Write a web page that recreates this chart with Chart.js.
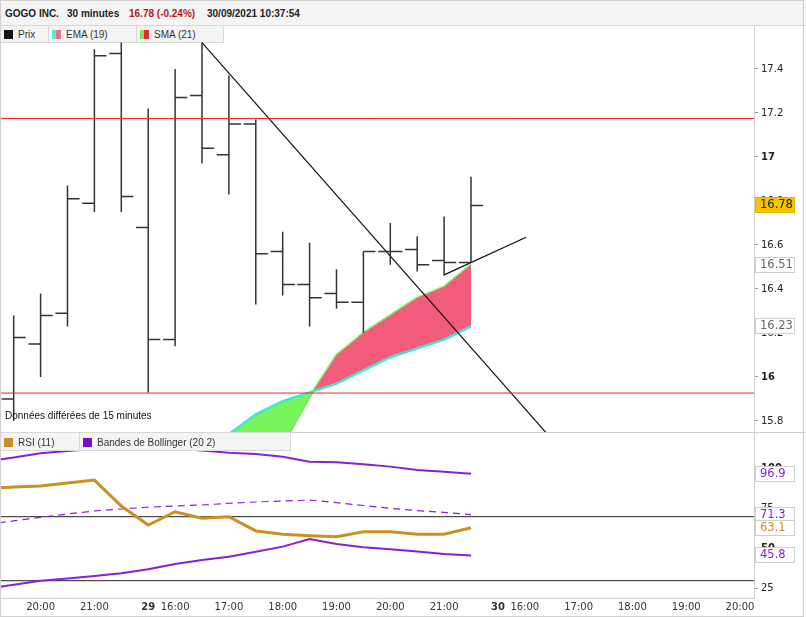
<!DOCTYPE html>
<html><head><meta charset="utf-8">
<script src="https://cdn.jsdelivr.net/npm/chart.js@4.4.1/dist/chart.umd.min.js"></script>
<style>
html,body{margin:0;padding:0;background:#fff;}
#wrap{position:relative;width:806px;height:617px;overflow:hidden;font-family:"Liberation Sans",Arial,sans-serif;}
#frame{position:absolute;left:0;top:0;width:804px;height:617px;border:1px solid #cfcfcf;box-sizing:border-box;pointer-events:none;}
#hdr{position:absolute;left:0;top:0;width:806px;height:26px;background:#f4f4f4;border-bottom:1px solid #d8d8d8;box-sizing:border-box;font-weight:bold;font-size:10px;color:#222;}
#hdr span{position:absolute;top:8px;white-space:nowrap;}
.leg{position:absolute;background:#f4f4f4;border:1px solid #d8d8d8;box-sizing:border-box;font-size:10px;color:#333;white-space:nowrap;}
.leg .sw{position:absolute;left:3px;width:9px;height:9px;}
.leg .tx{position:absolute;left:17px;}
canvas{position:absolute;left:0;}
#note{position:absolute;left:5px;top:410px;font-size:10px;color:#111;white-space:nowrap;line-height:12px;}
.hl{position:absolute;background:#cfcfcf;}
</style>
</head><body>
<div id="wrap">
  <div id="hdr">
    <span style="left:5px">GOGO INC.</span>
    <span style="left:67px">30 minutes</span>
    <span style="left:129px;color:#b3171b">16.78 (-0.24%)</span>
    <span style="left:207px">30/09/2021 10:37:54</span>
  </div>
  <div class="leg" style="left:0;top:25px;width:49px;height:18px;"><div class="sw" style="top:4px;background:#151515"></div><div class="tx" style="top:3px">Prix</div></div>
  <div class="leg" style="left:48px;top:25px;width:89px;height:18px;"><div class="sw" style="top:4px;background:linear-gradient(90deg,#4ff0d2 50%,#f36f8f 50%)"></div><div class="tx" style="top:3px">EMA (19)</div></div>
  <div class="leg" style="left:136px;top:25px;width:88px;height:18px;"><div class="sw" style="top:4px;background:linear-gradient(90deg,#74e85a 50%,#e82a2a 50%)"></div><div class="tx" style="top:3px">SMA (21)</div></div>
  <div class="hl" style="left:754px;top:25px;width:1px;height:17px;"></div>
  <canvas id="cPrice" width="806" height="390" style="top:42px"></canvas>
  <canvas id="cRsi" width="806" height="185" style="top:432px"></canvas>
  <div class="hl" style="left:0;top:432px;width:806px;height:1px;"></div>
  <div id="note">Données différées de 15 minutes</div>
  <div class="leg" style="left:0;top:432px;width:80px;height:19px;"><div class="sw" style="top:5px;background:#c98f1f"></div><div class="tx" style="top:4px">RSI (11)</div></div>
  <div class="leg" style="left:79px;top:432px;width:212px;height:19px;"><div class="sw" style="top:5px;background:#7a0ec8"></div><div class="tx" style="top:4px">Bandes de Bollinger (20 2)</div></div>
  <div id="frame"></div>
</div>
<script>
// ---- data ----
// 30-minute bars, slot 0 = 28/09 19:30 ... slot 17 = 29/09 21:30
const barTimes = ['28/09 19:30','28/09 20:00','28/09 20:30','28/09 21:00','28/09 21:30',
  '29/09 15:30','29/09 16:00','29/09 16:30','29/09 17:00','29/09 17:30','29/09 18:00','29/09 18:30',
  '29/09 19:00','29/09 19:30','29/09 20:00','29/09 20:30','29/09 21:00','29/09 21:30'];
const open  = [15.90,16.15,16.29,16.79,17.47,16.68,16.17,17.28,17.01,17.15,16.57,16.42,16.38,16.34,16.57,16.58,16.53,16.52];
const high  = [16.28,16.38,16.87,17.49,17.52,17.22,17.40,17.52,17.37,17.17,16.66,16.61,16.49,16.57,16.70,16.64,16.73,16.91];
const low   = [15.80,16.00,16.23,16.75,16.75,15.93,16.14,16.97,16.83,16.33,16.37,16.23,16.31,16.20,16.51,16.48,16.46,16.52];
const close = [16.18,16.28,16.81,17.46,16.82,16.17,17.27,17.04,17.15,16.56,16.42,16.36,16.34,16.57,16.57,16.51,16.52,16.78];
const ema19 = [null,null,null,null,null,null,null,null,15.74,15.83,15.89,15.93,15.97,16.03,16.09,16.13,16.17,16.23];
const sma21 = [null,null,null,null,null,null,null,null,15.30,15.50,15.69,15.91,16.10,16.20,16.28,16.36,16.41,16.51];
// horizontal levels and trendlines (slot, price)
const levels = [17.175, 15.927];
const trend1 = [{x:7, y:17.52},{x:20, y:15.718}];
const trend2 = [{x:16, y:16.464},{x:19.05, y:16.635}];
// RSI panel: indicator arrays start one slot earlier (slot -1 = 28/09 19:00)
const indFirstSlot = -1;
const rsi11   = [87.8,88.5,89.2,91.1,92.9,76.7,64.8,73.1,69.0,70.0,61.1,59.0,58.1,57.5,60.6,60.6,59.0,59.0,63.1];
const bbUpper = [104.6,107.0,109.6,111.1,112.3,112.9,113.3,112.6,111.3,110.0,109.2,107.5,104.4,104.0,102.8,101.3,99.2,98.1,96.9];
const bbMid   = [65.1,67.4,69.6,71.7,73.6,74.8,75.9,76.7,77.3,78.4,79.2,79.8,80.4,78.8,77.0,75.25,73.8,72.7,71.3];
const bbLower = [25.1,27.5,30.0,31.4,32.9,34.6,37.1,40.4,42.9,45.0,48.1,51.3,56.1,52.9,50.9,49.6,48.3,46.7,45.8];
const rsiLevels = [70, 30];
// axes
const priceTicks = [15.8,16,16.2,16.4,16.6,16.8,17,17.2,17.4];
const rsiTicks = [25,50,75,100];
const xTickPos    = [1,3,5,6,8,10,12,14,16,18,19,21,23,25,27];
const xTickLabels = ['20:00','21:00','29','16:00','17:00','18:00','19:00','20:00','21:00','30','16:00','17:00','18:00','19:00','20:00'];
const xMin = -0.509, xMax = 27.52;
const priceMin = 15.75, priceMax = 17.5227;
const rsiMin = 19.19, rsiMax = 122.94;

// ---- helpers ----
const BAR = '#333333', PURPLE = '#8a1ed2', GOLD = '#cc9020', RED = '#ff1f1f';
const tickFontFamily = '"DejaVu Sans", Verdana, sans-serif';
function segs(pairs){ const out=[]; pairs.forEach(p=>{ out.push(p[0],p[1],{x:p[1].x,y:null}); }); return out; }
const hlSeg=[], openSeg=[], closeSeg=[];
for (let i=0;i<open.length;i++){
  hlSeg.push([{x:i,y:low[i]},{x:i,y:high[i]}]);
  openSeg.push([{x:i-0.45,y:open[i]},{x:i,y:open[i]}]);
  closeSeg.push([{x:i,y:close[i]},{x:i+0.45,y:close[i]}]);
}
const series = (arr, first) => arr.map((v,i)=>({x:i+first, y:v}));
const flat = v => [{x:xMin,y:v},{x:xMax,y:v}];

function makeBoxes(items){
  return {
    id:'valueBoxes',
    afterDraw(chart){
      const {ctx, chartArea, scales} = chart;
      ctx.save();
      ctx.font = '11.5px ' + tickFontFamily;
      ctx.textBaseline = 'middle'; ctx.textAlign = 'left';
      for (const it of items){
        const y = scales.y.getPixelForValue(it.value);
        const x0 = Math.round(chartArea.right) + 1, w = 40, h = 16;
        const top = Math.round(y - h/2);
        ctx.fillStyle = it.bg; ctx.fillRect(x0, top, w, h);
        ctx.strokeStyle = it.border; ctx.lineWidth = 1; ctx.strokeRect(x0+0.5, top+0.5, w-1, h-1);
        ctx.fillStyle = it.color; ctx.fillText(it.text, x0+5, top + h/2 + 0.5);
      }
      ctx.restore();
    }
  };
}
function yAxis(min, max, ticksArr, boldFn, fmt){
  return {
    position:'right', min, max,
    afterBuildTicks: s => { s.ticks = ticksArr.map(v=>({value:v})); },
    afterFit: s => { s.width = 52; s.paddingTop = 0; s.paddingBottom = 0; },
    grid:{drawOnChartArea:false, drawTicks:true, tickLength:4, color:'#9a9a9a'},
    border:{display:true, color:'#cfcfcf'},
    ticks:{padding:3, color:'#222', autoSkip:false, callback: fmt,
      font: c => ({family: tickFontFamily, size:10, weight: (c.tick && boldFn(c.tick.value)) ? 'bold' : 'normal'})}
  };
}
const lineDs = (data, color, width, extra) => Object.assign({data, borderColor:color, borderWidth:width, pointRadius:0, fill:false, tension:0, spanGaps:false}, extra||{});

// ---- price chart ----
new Chart(document.getElementById('cPrice'), {
  type:'line',
  data:{ datasets:[
    lineDs(flat(levels[0]), RED, 1),
    lineDs(flat(levels[1]), RED, 1),
    lineDs(segs(hlSeg), BAR, 1.5),
    lineDs(segs(openSeg), BAR, 1.5),
    lineDs(segs(closeSeg), BAR, 1.5),
    lineDs(trend1, '#111', 1.2),
    lineDs(trend2, '#111', 1.2),
    lineDs(series(ema19,0), '#3fe8d2', 2.5, {fill:{target:8, above:'#78f55a', below:'#f25c7a'}}),
    lineDs(series(sma21,0), '#7cf062', 2.5)
  ]},
  options:{
    responsive:false, animation:false, devicePixelRatio:1,
    layout:{padding:0},
    plugins:{legend:{display:false}, tooltip:{enabled:false}},
    scales:{
      x:{type:'linear', min:xMin, max:xMax, display:false},
      y: yAxis(priceMin, priceMax, priceTicks, v => Number.isInteger(v), v => String(+(+v).toFixed(2)))
    }
  },
  plugins:[makeBoxes([
    {value: close[close.length-1], text: close[close.length-1].toFixed(2), bg:'#f6c400', border:'#e0b000', color:'#222'},
    {value: sma21[sma21.length-1], text: sma21[sma21.length-1].toFixed(2), bg:'#fff', border:'#cfcfcf', color:'#666'},
    {value: ema19[ema19.length-1], text: ema19[ema19.length-1].toFixed(2), bg:'#fff', border:'#cfcfcf', color:'#666'}
  ])]
});

// ---- RSI chart ----
new Chart(document.getElementById('cRsi'), {
  type:'line',
  data:{ datasets:[
    lineDs(series(rsi11, indFirstSlot), GOLD, 3),
    lineDs(series(bbUpper, indFirstSlot), PURPLE, 2),
    lineDs(series(bbMid, indFirstSlot), PURPLE, 1.2, {borderDash:[7,5]}),
    lineDs(series(bbLower, indFirstSlot), PURPLE, 2),
    lineDs(flat(rsiLevels[0]), '#222', 1),
    lineDs(flat(rsiLevels[1]), '#222', 1)
  ]},
  options:{
    responsive:false, animation:false, devicePixelRatio:1,
    layout:{padding:0},
    plugins:{legend:{display:false}, tooltip:{enabled:false}},
    scales:{
      x:{type:'linear', min:xMin, max:xMax, position:'bottom',
        afterBuildTicks: s => { s.ticks = xTickPos.map(v=>({value:v})); },
        afterFit: s => { s.height = 19; s.paddingLeft = 0; s.paddingRight = 0; },
        grid:{drawOnChartArea:false, drawTicks:false},
        border:{display:true, color:'#cfcfcf'},
        ticks:{padding:3, color:'#333', autoSkip:false, maxRotation:0, minRotation:0,
          callback: v => { const k = xTickPos.indexOf(v); return k>=0 ? xTickLabels[k] : ''; },
          font: c => ({family: tickFontFamily, size:10, weight: (c.tick && (xTickLabels[xTickPos.indexOf(c.tick.value)]||'').indexOf(':')<0) ? 'bold':'normal'})}
      },
      y: yAxis(rsiMin, rsiMax, rsiTicks, v => v===50 || v===100, v => String(v))
    }
  },
  plugins:[makeBoxes([
    {value: bbUpper[bbUpper.length-1], text: bbUpper[bbUpper.length-1].toFixed(1), bg:'#fff', border:'#cfcfcf', color:PURPLE},
    {value: bbMid[bbMid.length-1], text: bbMid[bbMid.length-1].toFixed(1), bg:'#fff', border:'#cfcfcf', color:PURPLE},
    {value: rsi11[rsi11.length-1], text: rsi11[rsi11.length-1].toFixed(1), bg:'#fff', border:'#cfcfcf', color:GOLD},
    {value: bbLower[bbLower.length-1], text: bbLower[bbLower.length-1].toFixed(1), bg:'#fff', border:'#cfcfcf', color:PURPLE}
  ])]
});
</script>
</body></html>
